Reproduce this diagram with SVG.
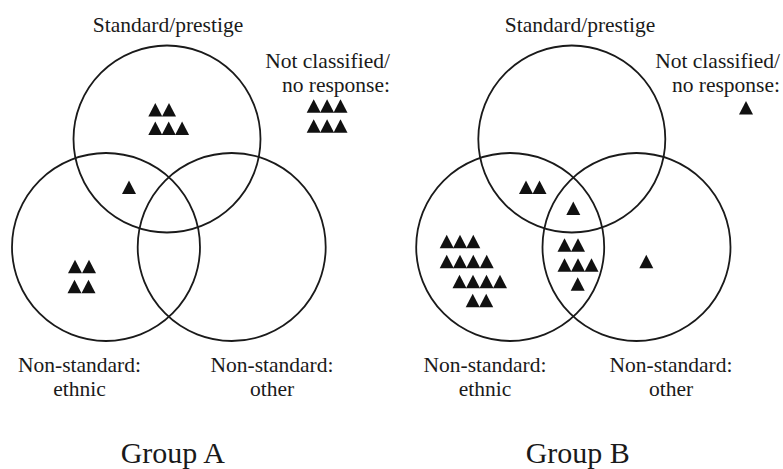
<svg xmlns="http://www.w3.org/2000/svg" width="783" height="469" viewBox="0 0 783 469">
<style>
  .c { fill: none; stroke: #1a1a1a; stroke-width: 1.8; }
  text { font-family: 'Liberation Serif', 'Tinos', 'Times New Roman', Times, 'DejaVu Serif', serif; fill: #1a1a1a; }
  .t { font-size: 21.5px; }
  .m { text-anchor: middle; }
  .e { text-anchor: end; }
  .g { font-size: 30px; text-anchor: middle; }
  .tri { fill: #111; }
</style>
<defs>
  <path id="tr" class="tri" d="M0,-13.5 L7,0 L-7,0 Z"/>
</defs>
<rect width="783" height="469" fill="#fff"/>

<!-- Group A -->
<g id="groupA">
  <g id="A-standard">
    <circle class="c" cx="167" cy="139" r="93.5"/>
    <text class="t m" x="168" y="31.5">Standard/prestige</text>
  </g>
  <g id="A-ethnic">
    <circle class="c" cx="106" cy="247" r="94"/>
    <text class="t m" x="79.5" y="371.5">Non-standard:</text>
    <text class="t m" x="79.5" y="395.5">ethnic</text>
  </g>
  <g id="A-other">
    <circle class="c" cx="231.7" cy="247" r="94"/>
    <text class="t m" x="272" y="371.5">Non-standard:</text>
    <text class="t m" x="272" y="395.5">other</text>
  </g>
  <g id="A-unclassified">
    <text class="t e" x="390" y="68.3">Not classified/</text>
    <text class="t e" x="390" y="91.7">no response:</text>
  </g>
  <g id="A-marks">
    <use href="#tr" x="155.3" y="116.5"/>
    <use href="#tr" x="169" y="116.5"/>
    <use href="#tr" x="155.3" y="135"/>
    <use href="#tr" x="168.7" y="135"/>
    <use href="#tr" x="182.1" y="135"/>
    <use href="#tr" x="129" y="194"/>
    <use href="#tr" x="75" y="273.3"/>
    <use href="#tr" x="89" y="273.3"/>
    <use href="#tr" x="74.5" y="293.3"/>
    <use href="#tr" x="88.5" y="293.3"/>
    <use href="#tr" x="313.7" y="112.7"/>
    <use href="#tr" x="327.1" y="112.7"/>
    <use href="#tr" x="340.5" y="112.7"/>
    <use href="#tr" x="313.7" y="132.7"/>
    <use href="#tr" x="327.1" y="132.7"/>
    <use href="#tr" x="340.5" y="132.7"/>
  </g>
  <text id="A-title" class="g" x="172.8" y="463">Group A</text>
</g>

<!-- Group B -->
<g id="groupB">
  <g id="B-standard">
    <circle class="c" cx="571.8" cy="139" r="93.5"/>
    <text class="t m" x="580" y="31.5">Standard/prestige</text>
  </g>
  <g id="B-ethnic">
    <circle class="c" cx="510.2" cy="247" r="94"/>
    <text class="t m" x="485" y="371.5">Non-standard:</text>
    <text class="t m" x="485" y="395.5">ethnic</text>
  </g>
  <g id="B-other">
    <circle class="c" cx="636.5" cy="247" r="94"/>
    <text class="t m" x="671" y="371.5">Non-standard:</text>
    <text class="t m" x="671" y="395.5">other</text>
  </g>
  <g id="B-unclassified">
    <text class="t e" x="780" y="68.3">Not classified/</text>
    <text class="t e" x="780" y="91.7">no response:</text>
  </g>
  <g id="B-marks">
    <use href="#tr" x="526" y="194"/>
    <use href="#tr" x="539.5" y="194"/>
    <use href="#tr" x="573.3" y="215"/>
    <use href="#tr" x="564.5" y="251.7"/>
    <use href="#tr" x="578" y="251.7"/>
    <use href="#tr" x="564.5" y="271.7"/>
    <use href="#tr" x="578" y="271.7"/>
    <use href="#tr" x="591.5" y="271.7"/>
    <use href="#tr" x="577.7" y="290.7"/>
    <use href="#tr" x="446.7" y="248.3"/>
    <use href="#tr" x="460" y="248.3"/>
    <use href="#tr" x="473.3" y="248.3"/>
    <use href="#tr" x="446.7" y="268.3"/>
    <use href="#tr" x="460" y="268.3"/>
    <use href="#tr" x="473.3" y="268.3"/>
    <use href="#tr" x="486.7" y="268.3"/>
    <use href="#tr" x="459.5" y="288.3"/>
    <use href="#tr" x="473" y="288.3"/>
    <use href="#tr" x="486.5" y="288.3"/>
    <use href="#tr" x="500" y="288.3"/>
    <use href="#tr" x="472.7" y="307.3"/>
    <use href="#tr" x="486.2" y="307.3"/>
    <use href="#tr" x="646.3" y="268.3"/>
    <use href="#tr" x="746" y="114.5"/>
  </g>
  <text id="B-title" class="g" x="577.8" y="463">Group B</text>
</g>
</svg>
